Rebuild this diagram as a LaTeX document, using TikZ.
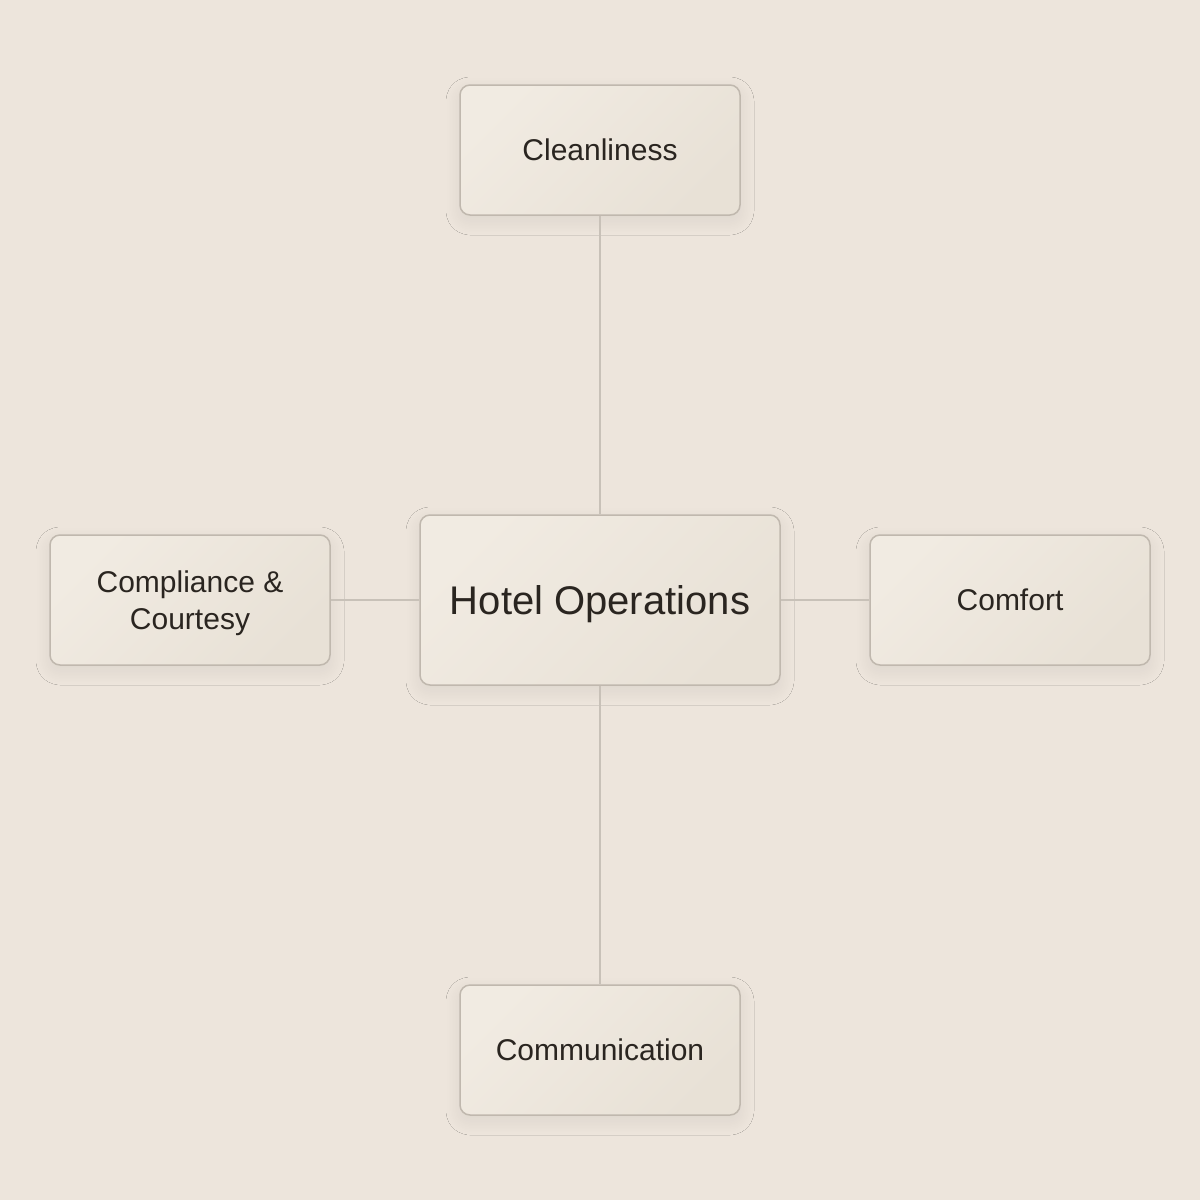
\documentclass[tikz,border=0pt]{standalone}
\usepackage{fontspec}
\setmainfont{Liberation Sans}
\usetikzlibrary{shadows.blur}
\definecolor{bg}{RGB}{237,229,220}
\definecolor{boxtop}{RGB}{241,235,226}
\definecolor{boxbot}{RGB}{232,225,214}
\definecolor{boxline}{RGB}{192,184,174}
\definecolor{conn}{RGB}{200,193,184}
\definecolor{ink}{RGB}{42,37,32}
\tikzset{
  card/.style={draw=boxline, line width=1.5pt, rounded corners=10pt,
    left color=boxtop, right color=boxbot, shading angle=45,
    text=ink, align=center, inner sep=0pt, text depth=0pt,
    blur shadow={shadow xshift=0pt, shadow yshift=-6pt, shadow blur radius=14pt, shadow blur steps=24, shadow opacity=7}},
  small/.style={card, minimum width=280pt, minimum height=130pt, font=\fontsize{30}{37}\selectfont},
  big/.style={card, minimum width=360pt, minimum height=170pt, font=\fontsize{40}{48}\selectfont},
  link/.style={draw=conn, line width=1.5pt}
}
\begin{document}
\begin{tikzpicture}[x=1pt,y=-1pt]
\fill[bg] (0,0) rectangle (1200,1200);
\useasboundingbox (0,0) rectangle (1200,1200);
\node[big] (hub) at (600,600) {Hotel Operations};
\node[small] (top) at (600,150) {Cleanliness};
\node[small] (bot) at (600,1050) {Communication};
\node[small] (lft) at (190,600) {Compliance \&\\Courtesy};
\node[small] (rgt) at (1010,600) {Comfort};
\draw[link] (hub.north) -- (top.south);
\draw[link] (hub.south) -- (bot.north);
\draw[link] (hub.west) -- (lft.east);
\draw[link] (hub.east) -- (rgt.west);
\end{tikzpicture}
\end{document}
